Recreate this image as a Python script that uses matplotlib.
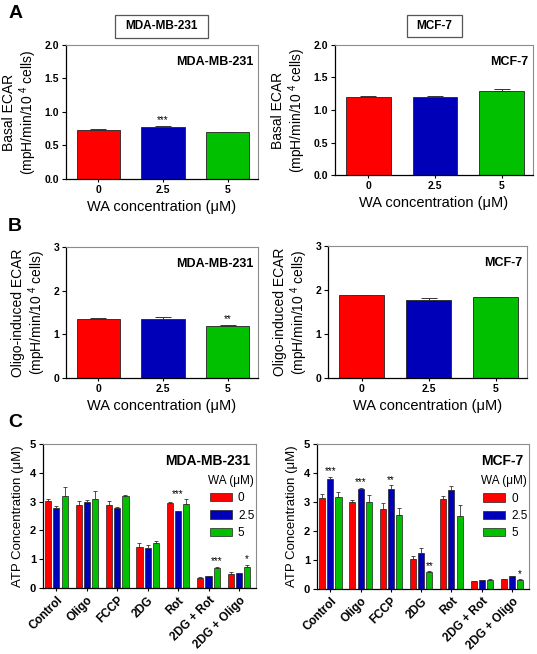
import numpy as np
import matplotlib
matplotlib.use('Agg')
import matplotlib.pyplot as plt
from matplotlib.patches import Rectangle, Patch

plt.rcParams['font.family'] = ['Liberation Sans', 'DejaVu Sans']
plt.rcParams['mathtext.fontset'] = 'custom'
plt.rcParams['mathtext.rm'] = 'Liberation Sans'
plt.rcParams['mathtext.it'] = 'Liberation Sans:italic'
plt.rcParams['mathtext.bf'] = 'Liberation Sans:bold'

# doses of WA (uM) and bar colours
doses = ['0', '2.5', '5']
colors = ['#ff0000', '#0000b8', '#00c000']

# panel A: basal ECAR
basal_mda = [0.73, 0.78, 0.70]
basal_mda_err = [0.01, 0.01, 0.005]
basal_mda_sig = ['', '***', '']
basal_mcf = [1.20, 1.20, 1.29]
basal_mcf_err = [0.02, 0.01, 0.04]
basal_mcf_sig = ['', '', '']

# panel B: oligo-induced ECAR
oligo_mda = [1.36, 1.36, 1.19]
oligo_mda_err = [0.02, 0.03, 0.02]
oligo_mda_sig = ['', '', '**']
oligo_mcf = [1.88, 1.78, 1.84]
oligo_mcf_err = [0.01, 0.04, 0.01]
oligo_mcf_sig = ['', '', '']

# panel C: ATP
treatments = ['Control', 'Oligo', 'FCCP', '2DG', 'Rot', '2DG + Rot', '2DG + Oligo']
atp_mda_0 = [3.03, 2.88, 2.87, 1.43, 2.95, 0.35, 0.50]
atp_mda_25 = [2.77, 2.97, 2.77, 1.38, 2.68, 0.40, 0.52]
atp_mda_5 = [3.20, 3.08, 3.20, 1.57, 2.93, 0.70, 0.73]
atp_mda_0_err = [0.06, 0.15, 0.15, 0.13, 0.02, 0.02, 0.04]
atp_mda_25_err = [0.08, 0.10, 0.05, 0.10, 0.01, 0.01, 0.01]
atp_mda_5_err = [0.32, 0.28, 0.04, 0.05, 0.15, 0.03, 0.07]
# (group, bar, stars, put above tallest bar of group)
atp_mda_sig = [(4, 1, '***', True), (5, 2, '***', False), (6, 2, '*', False)]

atp_mcf_0 = [3.13, 3.00, 2.75, 1.03, 3.10, 0.27, 0.34]
atp_mcf_25 = [3.80, 3.45, 3.45, 1.25, 3.40, 0.30, 0.44]
atp_mcf_5 = [3.17, 3.00, 2.55, 0.57, 2.52, 0.31, 0.30]
atp_mcf_0_err = [0.13, 0.06, 0.20, 0.12, 0.10, 0.01, 0.02]
atp_mcf_25_err = [0.07, 0.03, 0.12, 0.17, 0.15, 0.02, 0.01]
atp_mcf_5_err = [0.17, 0.23, 0.23, 0.04, 0.37, 0.02, 0.03]
atp_mcf_sig = [(0, 1, '***', False), (1, 1, '***', False), (2, 1, '**', False),
               (3, 2, '**', False), (6, 2, '*', False)]

fig = plt.figure(figsize=(5.37, 6.54), dpi=100)


def style_axes(ax, size=7.5):
    for s in ['left', 'bottom']:
        ax.spines[s].set_color('black')
        ax.spines[s].set_linewidth(0.9)
    for s in ['top', 'right']:
        ax.spines[s].set_color('#8c8c8c')
        ax.spines[s].set_linewidth(0.8)
    ax.tick_params(direction='out', length=3, width=0.8, labelsize=size, pad=2)
    for lab in ax.get_xticklabels() + ax.get_yticklabels():
        lab.set_fontweight('bold')


def ecar_panel(rect, vals, errs, sig, ymax, yticks, fmt, ylabel, cell, box=None):
    ax = fig.add_axes(rect)
    x = np.arange(len(vals))
    ax.bar(x, vals, width=0.67, color=colors, edgecolor='#222222', linewidth=0.6, zorder=2)
    ax.errorbar(x, vals, yerr=[np.zeros(len(errs)), errs], fmt='none', ecolor='#333333',
                elinewidth=0.7, capsize=6, capthick=0.7, zorder=3)
    for xi, v, e, s in zip(x, vals, errs, sig):
        if s:
            ax.annotate(s, (xi, v + e), xytext=(0, 0.5), textcoords='offset points',
                        ha='center', va='bottom', fontsize=7)
    ax.set_xlim(-0.5, 2.47)
    ax.set_ylim(0, ymax)
    ax.set_yticks(yticks)
    ax.set_yticklabels([fmt.format(t) for t in yticks])
    ax.set_xticks(x)
    ax.set_xticklabels(doses)
    ax.set_xlabel('WA concentration (\u03bcM)', fontsize=10.5, labelpad=4)
    ax.set_ylabel(ylabel, fontsize=10, labelpad=4, linespacing=1.1)
    ax.text(0.975, 0.87, cell, transform=ax.transAxes, ha='right', va='center',
            fontsize=9, fontweight='bold')
    style_axes(ax)
    ax.tick_params(axis='x', length=2)
    if box is not None:
        x0, y0, w, h = box
        fig.patches.append(Rectangle((x0, y0), w, h, transform=fig.transFigure,
                                     fill=False, edgecolor='#555555', linewidth=0.9))
        fig.text(x0 + w / 2, y0 + h / 2, cell, ha='center', va='center',
                 fontsize=8.5, fontweight='bold')
    return ax


def atp_panel(rect, series, errs, sig, cell):
    ax = fig.add_axes(rect)
    g = np.arange(len(treatments))
    off, w = 0.27, 0.2
    tops = np.array([np.array(s) + np.array(e) for s, e in zip(series, errs)])
    for i, (s, e) in enumerate(zip(series, errs)):
        xs = g + (i - 1) * off
        ax.bar(xs, s, width=w, color=colors[i], edgecolor='#222222', linewidth=0.5,
               zorder=2, label=doses[i])
        ax.errorbar(xs, s, yerr=[np.zeros(len(e)), e], fmt='none', ecolor='#333333',
                    elinewidth=0.6, capsize=1.6, capthick=0.6, zorder=3)
    for gi, bi, s, over_group in sig:
        y = tops[:, gi].max() if over_group else tops[bi, gi]
        ax.annotate(s, (gi + (bi - 1) * off, y), xytext=(0, 0.5), textcoords='offset points',
                    ha='center', va='bottom', fontsize=7)
    ax.set_xlim(-0.44, 6.56)
    ax.set_ylim(0, 5)
    ax.set_yticks(range(6))
    ax.set_xticks(g)
    ax.set_xticklabels(treatments, rotation=45, ha='right', rotation_mode='anchor')
    ax.set_ylabel('ATP Concentration (\u03bcM)', fontsize=9.5, labelpad=4)
    style_axes(ax, size=8)
    ax.tick_params(axis='x', labelsize=8.5, length=2.5)
    ax.text(0.975, 0.88, cell, transform=ax.transAxes, ha='right', va='center',
            fontsize=10, fontweight='bold')
    ax.text(0.99, 0.745, 'WA (\u03bcM)', transform=ax.transAxes, ha='right', va='center',
            fontsize=8.5)
    handles = [Patch(facecolor=c, edgecolor='#222222', linewidth=0.5) for c in colors]
    ax.legend(handles, doses, loc='upper left', bbox_to_anchor=(0.785, 0.665),
              frameon=False, fontsize=8.5, handlelength=1.85, handleheight=0.7,
              handletextpad=0.5, labelspacing=0.45, borderpad=0, borderaxespad=0)
    return ax


ecar_label_a = 'Basal ECAR\n(mpH/min/10$^{\\ 4}$ cells)'
ecar_label_b = 'Oligo-induced ECAR\n(mpH/min/10$^{\\ 4}$ cells)'

ecar_panel([0.1229, 0.7263, 0.3575, 0.2049], basal_mda, basal_mda_err, basal_mda_sig,
           2.0, [0, 0.5, 1.0, 1.5, 2.0], '{:.1f}', ecar_label_a, 'MDA-MB-231',
           box=(0.2142, 0.9419, 0.1732, 0.0352))
ecar_panel([0.6238, 0.7324, 0.3687, 0.1988], basal_mcf, basal_mcf_err, basal_mcf_sig,
           2.0, [0, 0.5, 1.0, 1.5, 2.0], '{:.1f}', ecar_label_a, 'MCF-7',
           box=(0.7579, 0.9434, 0.1024, 0.0336))
ecar_panel([0.1229, 0.4220, 0.3575, 0.2003], oligo_mda, oligo_mda_err, oligo_mda_sig,
           3, [0, 1, 2, 3], '{:d}', ecar_label_b, 'MDA-MB-231')
ecar_panel([0.6108, 0.4220, 0.3706, 0.2018], oligo_mcf, oligo_mcf_err, oligo_mcf_sig,
           3, [0, 1, 2, 3], '{:d}', ecar_label_b, 'MCF-7')

atp_panel([0.0801, 0.1009, 0.3966, 0.2202], [atp_mda_0, atp_mda_25, atp_mda_5],
          [atp_mda_0_err, atp_mda_25_err, atp_mda_5_err], atp_mda_sig, 'MDA-MB-231')
atp_panel([0.5903, 0.0994, 0.3948, 0.2217], [atp_mcf_0, atp_mcf_25, atp_mcf_5],
          [atp_mcf_0_err, atp_mcf_25_err, atp_mcf_5_err], atp_mcf_sig, 'MCF-7')

for letter, y in [('A', 0.979), ('B', 0.654), ('C', 0.354)]:
    fig.text(0.015, y, letter, fontsize=14, fontweight='bold', va='center', ha='left')

fig.savefig('out.png', dpi=100)
